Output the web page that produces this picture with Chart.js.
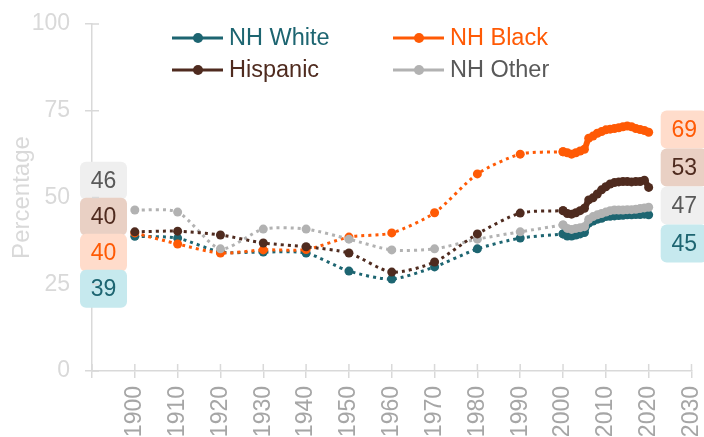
<!DOCTYPE html>
<html>
<head>
<meta charset="utf-8">
<script src="https://cdn.jsdelivr.net/npm/chart.js@4"></script>
<style>
  html, body { margin: 0; padding: 0; background: #fff; }
  #wrap { width: 704px; height: 437px; position: relative; }
</style>
</head>
<body>
<div id="wrap"><canvas id="trendChart"></canvas></div>
<script>
// -----------------------
// Data
// -----------------------
const decadeYears = [1900, 1910, 1920, 1930, 1940, 1950, 1960, 1970, 1980, 1990, 2000];
const annualYears = [2000, 2001, 2002, 2003, 2004, 2005, 2006, 2007, 2008, 2009, 2010,
                     2011, 2012, 2013, 2014, 2015, 2016, 2017, 2018, 2019, 2020];

const whiteDecade    = [38.8, 38.3, 34.3, 34.3, 34.0, 28.8, 26.5, 30.0, 35.2, 38.3, 39.5];
const blackDecade    = [39.8, 36.6, 34.0, 34.9, 35.0, 38.6, 39.8, 45.6, 56.8, 62.5, 63.2];
const hispanicDecade = [40.1, 40.3, 39.2, 36.9, 35.8, 34.0, 28.5, 31.4, 39.5, 45.5, 46.2];
const otherDecade    = [46.4, 45.8, 35.2, 40.9, 40.9, 38.0, 34.9, 35.2, 38.0, 40.1, 42.1];

const whiteAnnual    = [39.5, 38.9, 38.9, 39.2, 39.5, 39.9, 42.6, 43.2, 43.7, 44.0, 44.5,
                        44.6, 44.7, 44.8, 44.9, 45.0, 45.0, 45.1, 45.1, 45.2, 45.0];
const blackAnnual    = [63.2, 62.9, 62.5, 62.9, 63.4, 63.9, 67.1, 67.7, 68.5, 69.0, 69.5,
                        69.7, 69.9, 70.1, 70.4, 70.6, 70.4, 69.9, 69.6, 69.3, 68.8];
const hispanicAnnual = [46.2, 45.4, 45.2, 45.6, 46.2, 46.9, 49.3, 49.9, 51.0, 52.2, 53.1,
                        53.9, 54.3, 54.5, 54.6, 54.6, 54.5, 54.6, 54.6, 55.0, 52.9];
const otherAnnual    = [42.1, 41.1, 40.8, 41.1, 41.3, 41.6, 43.7, 44.5, 45.0, 45.4, 45.8,
                        46.2, 46.4, 46.4, 46.4, 46.5, 46.5, 46.6, 46.8, 47.0, 47.2];

const seriesNames = ['NH White', 'NH Black', 'Hispanic', 'NH Other'];
const yTicks = [0, 25, 50, 75, 100];
const xTicks = [1890, 1900, 1910, 1920, 1930, 1940, 1950, 1960, 1970, 1980, 1990, 2000, 2010, 2020, 2030];

// styling per series
const styles = {
  'NH White': { line: '#1d6571', text: '#1d6571', box: '#c6e9ee', order: 4 },
  'NH Black': { line: '#ff5a05', text: '#ff5a05', box: '#ffdccb', order: 3 },
  'Hispanic': { line: '#4f2b1f', text: '#4f2b1f', box: '#e9d0c4', order: 1 },
  'NH Other': { line: '#b2b2b2', text: '#595959', box: '#efefef', order: 2 }
};

const FONT = '"Liberation Sans", Arial, sans-serif';
const toPts = (xs, ys) => xs.map((x, i) => ({ x, y: ys[i] }));

const decadeData = [whiteDecade, blackDecade, hispanicDecade, otherDecade];
const annualData = [whiteAnnual, blackAnnual, hispanicAnnual, otherAnnual];

const datasets = [];
seriesNames.forEach((name, i) => {
  const s = styles[name];
  datasets.push({
    label: name, kind: 'decade', series: name,
    data: toPts(decadeYears, decadeData[i]),
    borderColor: s.line, backgroundColor: s.line,
    borderWidth: 3, borderDash: [3, 4], borderCapStyle: 'butt',
    pointRadius: 4.5, pointHoverRadius: 4.5, pointBorderWidth: 0,
    tension: 0.25, order: s.order + 4
  });
  datasets.push({
    label: name, kind: 'annual', series: name,
    data: toPts(annualYears, annualData[i]),
    borderColor: s.line, backgroundColor: s.line,
    borderWidth: 6, pointRadius: 4.5, pointHoverRadius: 4.5, pointBorderWidth: 0,
    tension: 0.2, order: s.order
  });
});

// -----------------------
// Plugins
// -----------------------
// ticks that cross the axis lines
const crossTicks = {
  id: 'crossTicks',
  afterDraw(chart) {
    const { ctx, chartArea, scales } = chart;
    ctx.save();
    ctx.strokeStyle = '#d9d9d9';
    ctx.lineWidth = 1.5;
    yTicks.forEach(v => {
      const y = scales.y.getPixelForValue(v);
      ctx.beginPath(); ctx.moveTo(chartArea.left, y); ctx.lineTo(chartArea.left + 7, y); ctx.stroke();
    });
    xTicks.forEach(v => {
      const x = scales.x.getPixelForValue(v);
      ctx.beginPath(); ctx.moveTo(x, chartArea.bottom); ctx.lineTo(x, chartArea.bottom - 7); ctx.stroke();
    });
    ctx.restore();
  }
};

// legend: line with a dot, two columns
const lineLegend = {
  id: 'lineLegend',
  afterDraw(chart) {
    const { ctx } = chart;
    const spots = [[172, 38], [393, 38], [172, 70], [393, 70]];
    ctx.save();
    seriesNames.forEach((name, i) => {
      const [x, y] = spots[i];
      const s = styles[name];
      ctx.strokeStyle = s.line; ctx.lineWidth = 3;
      ctx.beginPath(); ctx.moveTo(x, y); ctx.lineTo(x + 51, y); ctx.stroke();
      ctx.fillStyle = s.line;
      ctx.beginPath(); ctx.arc(x + 26, y, 5, 0, Math.PI * 2); ctx.fill();
      ctx.fillStyle = s.text;
      ctx.font = '23.5px ' + FONT;
      ctx.textBaseline = 'middle';
      ctx.textAlign = 'left';
      ctx.fillText(name, x + 57, y + 1);
    });
    ctx.restore();
  }
};

// end value boxes, spread apart so they don't pile up
function spread(items, gap) {
  items.sort((a, b) => a.y - b.y);
  for (let k = 0; k < 200; k++) {
    let moved = false;
    for (let i = 1; i < items.length; i++) {
      const d = items[i].y - items[i - 1].y;
      if (d < gap - 0.01) {
        const push = (gap - d) / 2;
        items[i - 1].y -= push; items[i].y += push; moved = true;
      }
    }
    if (!moved) break;
  }
  return items;
}

function roundRect(ctx, x, y, w, h, r) {
  ctx.beginPath();
  ctx.moveTo(x + r, y);
  ctx.arcTo(x + w, y, x + w, y + h, r);
  ctx.arcTo(x + w, y + h, x, y + h, r);
  ctx.arcTo(x, y + h, x, y, r);
  ctx.arcTo(x, y, x + w, y, r);
  ctx.closePath();
}

const endLabels = {
  id: 'endLabels',
  afterDatasetsDraw(chart) {
    const { ctx, scales } = chart;
    const sides = [
      { kind: 'decade', pick: d => d[0], boxX: 80, gap: 36, shift: 7 },
      { kind: 'annual', pick: d => d[d.length - 1], boxX: scales.x.getPixelForValue(2020) + 12, gap: 38, shift: 1 }
    ];
    ctx.save();
    sides.forEach(side => {
      const items = chart.data.datasets
        .filter(ds => ds.kind === side.kind)
        .map(ds => {
          const v = side.pick(ds.data).y;
          return { name: ds.series, value: v, y: scales.y.getPixelForValue(v) };
        });
      spread(items, side.gap).forEach(it => {
        const s = styles[it.name];
        const cy = it.y + side.shift;
        ctx.fillStyle = s.box;
        roundRect(ctx, side.boxX, cy - 19, 47, 38, 6);
        ctx.fill();
        ctx.fillStyle = s.text;
        ctx.font = '23px ' + FONT;
        ctx.textAlign = 'center';
        ctx.textBaseline = 'middle';
        ctx.fillText(String(Math.round(it.value)), side.boxX + 23.5, cy + 1);
      });
    });
    ctx.restore();
  }
};

// -----------------------
// Chart
// -----------------------
function initChart() {
  const ctx = document.getElementById('trendChart').getContext('2d');
  new Chart(ctx, {
    type: 'line',
    data: { datasets },
    options: {
      responsive: true,
      maintainAspectRatio: false,
      animation: false,
      layout: { padding: { top: 24, right: 12.5, left: 0, bottom: 0 } },
      plugins: { legend: { display: false }, tooltip: { enabled: false } },
      scales: {
        x: {
          type: 'linear', min: 1890, max: 2030,
          afterBuildTicks: scale => { scale.ticks = xTicks.map(v => ({ value: v })); },
          afterFit: scale => { scale.height = 66; scale.paddingLeft = 0; scale.paddingRight = 0; },
          grid: { drawOnChartArea: false, tickLength: 7, color: '#d9d9d9', lineWidth: 1.5 },
          border: { color: '#d9d9d9', width: 1.5 },
          ticks: {
            minRotation: 90, maxRotation: 90, padding: 8,
            color: '#a6a6a6', font: { family: FONT, size: 23 },
            callback: v => (v === 1890 ? '' : String(v))
          }
        },
        y: {
          min: 0, max: 100,
          afterBuildTicks: scale => { scale.ticks = yTicks.map(v => ({ value: v })); },
          afterFit: scale => { scale.width = 92; scale.paddingTop = 0; scale.paddingBottom = 0; },
          grid: { drawOnChartArea: false, tickLength: 7, color: '#d9d9d9', lineWidth: 1.5 },
          border: { color: '#d9d9d9', width: 1.5 },
          ticks: { padding: 15, color: '#d9d9d9', font: { family: FONT, size: 23 } },
          title: {
            display: true, text: 'Percentage', color: '#d9d9d9',
            font: { family: FONT, size: 24 }, padding: { top: 8, bottom: 0 }
          }
        }
      }
    },
    plugins: [crossTicks, endLabels, lineLegend]
  });
}

document.addEventListener('DOMContentLoaded', initChart);
</script>
</body>
</html>
